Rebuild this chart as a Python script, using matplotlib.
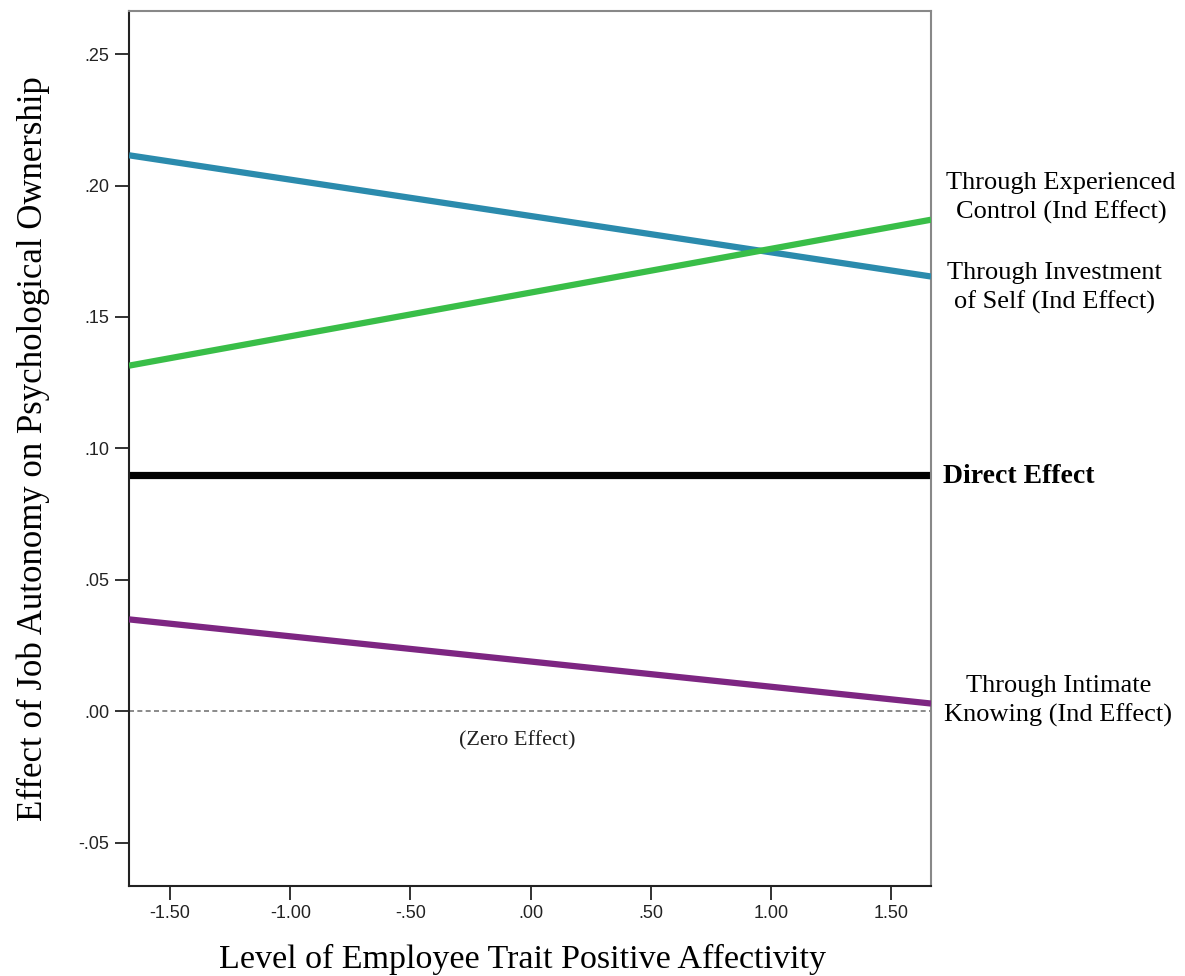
import matplotlib
matplotlib.use("Agg")
import matplotlib.pyplot as plt
from matplotlib import font_manager

# Moderator range (employee trait positive affectivity, centred)
x_range = [-1.671, 1.666]

# Conditional effects of job autonomy at the low and high ends of the range
investment_of_self = [0.2115, 0.1654]
experienced_control = [0.1315, 0.1870]
intimate_knowing = [0.0350, 0.0030]
direct_effect = [0.0900, 0.0900]

x_ticks = [-1.5, -1.0, -0.5, 0.0, 0.5, 1.0, 1.5]
x_tick_labels = ["-1.50", "-1.00", "-.50", ".00", ".50", "1.00", "1.50"]
y_ticks = [-0.05, 0.0, 0.05, 0.10, 0.15, 0.20, 0.25]
y_tick_labels = ["-.05", ".00", ".05", ".10", ".15", ".20", ".25"]

installed = {f.name for f in font_manager.fontManager.ttflist}
serif = "Liberation Serif" if "Liberation Serif" in installed else "DejaVu Serif"
narrow = "Liberation Sans Narrow" if "Liberation Sans Narrow" in installed else "Liberation Sans"

fig = plt.figure(figsize=(11.85, 9.76), dpi=100)
ax = fig.add_axes([0.1089, 0.0922, 0.6768, 0.8966])

blue = "#2B8BAD"
green = "#39BE48"
purple = "#7D2682"

ax.axhline(0.0, color="#777777", lw=1.2, ls=(0, (3, 2)), zorder=1)
ax.plot(x_range, direct_effect, color="black", lw=5.2, solid_capstyle="butt", zorder=2)
ax.plot(x_range, investment_of_self, color=blue, lw=4.5, solid_capstyle="butt", zorder=3)
ax.plot(x_range, experienced_control, color=green, lw=4.5, solid_capstyle="butt", zorder=3)
ax.plot(x_range, intimate_knowing, color=purple, lw=4.5, solid_capstyle="butt", zorder=3)

ax.set_xlim(x_range)
ax.set_ylim(-0.0664, 0.2664)
ax.set_xticks(x_ticks)
ax.set_xticklabels(x_tick_labels, fontfamily=narrow, fontsize=13)
ax.set_yticks(y_ticks)
ax.set_yticklabels(y_tick_labels, fontfamily=narrow, fontsize=13)
ax.tick_params(axis="both", direction="out", length=10, width=1.3, color="#222222",
               labelcolor="#222222", pad=4)

for side in ("left", "bottom"):
    ax.spines[side].set_color("#222222")
    ax.spines[side].set_linewidth(1.5)
for side in ("top", "right"):
    ax.spines[side].set_color("#888888")
    ax.spines[side].set_linewidth(1.5)

ax.set_xlabel("Level of Employee Trait Positive Affectivity", fontfamily=serif,
              fontsize=24.5)
ax.set_ylabel("Effect of Job Autonomy on Psychological Ownership", fontfamily=serif,
              fontsize=25)
# place axis titles (axes-fraction coordinates)
ax.xaxis.set_label_coords(0.491, -0.0663)
ax.yaxis.set_label_coords(-0.0985, 0.5)

ax.text(-0.055, -0.0110, "(Zero Effect)", fontfamily=serif, fontsize=16,
        ha="center", va="center", color="#222222")

label_kw = dict(fontfamily=serif, fontsize=19, ha="center", va="center",
                linespacing=1.4, clip_on=False)
ax.text(2.207, 0.1952, "Through Experienced\nControl (Ind Effect)", **label_kw)
ax.text(2.180, 0.1610, "Through Investment\nof Self (Ind Effect)", **label_kw)
ax.text(2.195, 0.0040, "Through Intimate\nKnowing (Ind Effect)", **label_kw)
ax.text(1.716, 0.0893, "Direct Effect", fontfamily=serif, fontsize=20, fontweight="bold",
        ha="left", va="center", clip_on=False)

fig.savefig("out.png", dpi=100)
